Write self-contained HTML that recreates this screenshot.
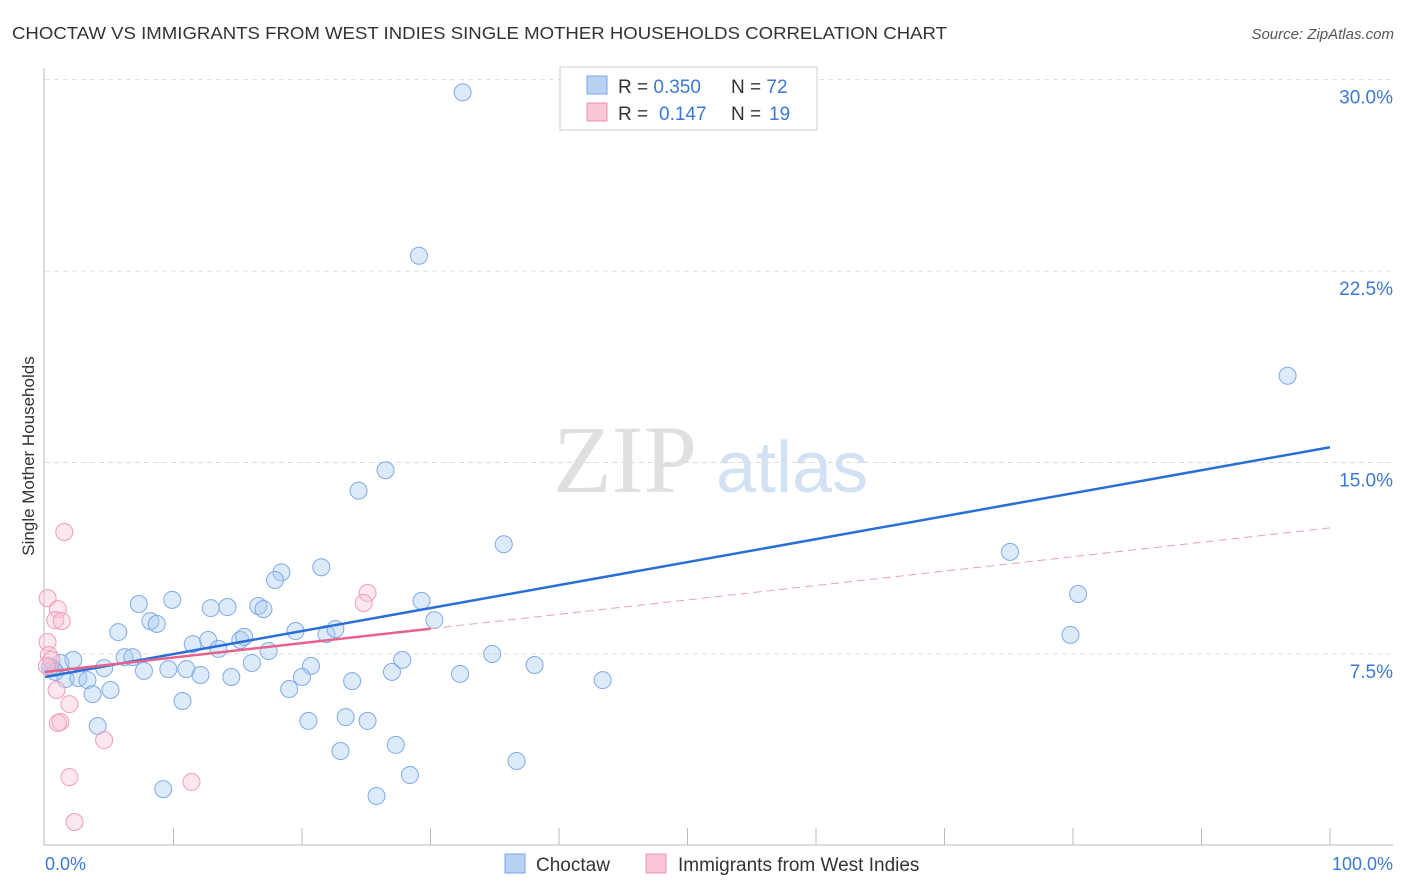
<!DOCTYPE html>
<html><head><meta charset="utf-8"><style>
body{margin:0;background:#fff;font-family:"Liberation Sans",sans-serif}
svg{display:block}
</style></head><body>
<svg width="1406" height="892" viewBox="0 0 1406 892">
<text x="12" y="39" font-size="17.5" fill="#333" textLength="935" lengthAdjust="spacingAndGlyphs">CHOCTAW VS IMMIGRANTS FROM WEST INDIES SINGLE MOTHER HOUSEHOLDS CORRELATION CHART</text>
<text x="1394" y="39" font-size="15" fill="#555" font-style="italic" text-anchor="end">Source: ZipAtlas.com</text>
<g>
<text x="553" y="492" font-family="Liberation Serif,serif" font-size="96" fill="#e0e0e0">ZIP</text>
<text x="716" y="492" font-size="72" fill="#d3e1f5">atlas</text>
</g>
<g id="grid"></g>
<line x1="44" y1="68" x2="44" y2="845" stroke="#bbb"/>
<line x1="44" y1="845" x2="1393" y2="845" stroke="#bbb"/>
<g id="xticks"></g>
<text x="34" y="456" font-size="17" fill="#333" transform="rotate(-90 34 456)" text-anchor="middle">Single Mother Households</text>
<text x="45" y="870" font-size="18" fill="#3b78d8">0.0%</text>
<text x="1393" y="870" font-size="18" fill="#3b78d8" text-anchor="end">100.0%</text>
<g id="pts"></g>
<g id="lines"></g>
<g>
<rect x="560" y="67" width="257" height="63" fill="#fff" stroke="#ccc"/>
<rect x="587" y="76" width="20" height="18" fill="#b8d1f3" stroke="#7aa6e2"/>
<rect x="587" y="103" width="20" height="18" fill="#f9c7d5" stroke="#eb91ab"/>
<text x="618" y="93" font-size="19" fill="#333">R = <tspan fill="#3b78d8">0.350</tspan><tspan x="731">N = </tspan><tspan fill="#3b78d8">72</tspan></text>
<text x="618" y="120" font-size="19" fill="#333">R = <tspan x="659" fill="#3b78d8">0.147</tspan><tspan x="731">N = </tspan><tspan x="769" fill="#3b78d8">19</tspan></text>
</g>
<g>
<rect x="505" y="854" width="20" height="19" fill="#b8d1f3" stroke="#7aa6e2"/>
<text x="536" y="871" font-size="19" fill="#333">Choctaw</text>
<rect x="646" y="854" width="20" height="19" fill="#f9c7d5" stroke="#eb91ab"/>
<text x="678" y="871" font-size="19" fill="#333">Immigrants from West Indies</text>
</g>
</svg>
<script>
const yTicks=[7.5,15,22.5,30];
const yTickLabels=["7.5%","15.0%","22.5%","30.0%"];
const xTicks=[10,20,30,40,50,60,70,80,90,100];
const choctawX=[32.5,29.1,96.7,26.5,24.4,35.7,75.1,21.5,18.4,17.9,80.4,7.3,9.9,12.9,14.2,16.6,17.0,29.3,30.3,8.2,8.7,5.7,79.8,19.5,21.9,22.6,11.5,12.7,13.5,15.2,15.5,17.4,2.2,1.2,0.6,0.4,0.8,1.6,2.6,3.3,4.6,6.2,6.8,7.7,9.6,11.0,12.1,14.5,16.1,20.7,20.0,19.0,23.9,27.0,27.8,32.3,34.8,38.1,43.4,3.7,5.1,10.7,4.1,20.5,23.4,25.1,23.0,27.3,28.4,36.7,9.2,25.8];
const choctawY=[29.5,23.1,18.4,14.7,13.9,11.8,11.5,10.9,10.7,10.4,9.85,9.46,9.62,9.3,9.34,9.38,9.26,9.58,8.83,8.79,8.68,8.36,8.25,8.4,8.28,8.48,7.89,8.05,7.7,8.05,8.17,7.62,7.27,7.15,6.95,6.99,6.8,6.52,6.56,6.48,6.95,7.38,7.38,6.84,6.91,6.91,6.68,6.6,7.15,7.03,6.6,6.13,6.44,6.8,7.27,6.72,7.5,7.07,6.48,5.93,6.09,5.66,4.68,4.88,5.03,4.88,3.7,3.94,2.76,3.31,2.21,1.94];
const westIndiesX=[1.5,0.2,1.0,0.8,1.3,0.2,0.3,0.5,0.9,1.9,1.2,1.0,4.6,1.9,2.3,11.4,25.1,24.8,0.15];
const westIndiesY=[12.28,9.69,9.26,8.83,8.79,7.97,7.46,7.27,6.09,5.54,4.84,4.8,4.13,2.68,0.92,2.49,9.89,9.5,7.03];
const choctawTrend=[6.6,15.6];
const westIndiesTrend=[6.8,12.44];
const westIndiesSolidEnd=30;

const NS="http://www.w3.org/2000/svg";
const sx=v=>45+v*12.85;
const sy=v=>845.5-v*25.53;
function mk(tag,attrs,parent){const e=document.createElementNS(NS,tag);for(const k in attrs)e.setAttribute(k,attrs[k]);parent.appendChild(e);return e;}
const grid=document.getElementById('grid');
yTicks.forEach((t,i)=>{
 const l=mk('line',{x1:45,x2:1393,y1:sy(t),y2:sy(t),stroke:'#ddd','stroke-dasharray':'5,4'},grid);
 
 
 const tx=mk('text',{x:1393,y:sy(t)+24,'font-size':19,fill:'#3b78d8','text-anchor':'end'},grid);
 tx.textContent=yTickLabels[i];
 
 
});
const xt=document.getElementById('xticks');
xTicks.forEach(t=>{
 const l=mk('line',{x1:sx(t),x2:sx(t),y1:828,y2:845,stroke:'#bbb'},xt);
 
 
});
const pts=document.getElementById('pts');
choctawX.forEach((x,i)=>{
 const c=mk('circle',{cx:sx(x),cy:sy(choctawY[i]),r:8.5,fill:'rgba(170,202,242,0.4)',stroke:'#7fabe4','stroke-width':1},pts);
 
 
});
westIndiesX.forEach((x,i)=>{
 const c=mk('circle',{cx:sx(x),cy:sy(westIndiesY[i]),r:8.5,fill:'rgba(248,195,212,0.4)',stroke:'#ee9db5','stroke-width':1},pts);
 
 
});
const lines=document.getElementById('lines');
const bl=mk('line',{x1:sx(0),y1:sy(choctawTrend[0]),x2:sx(100),y2:sy(choctawTrend[1]),stroke:'#2a6fd6','stroke-width':2.5},lines);


const pAt=v=>westIndiesTrend[0]+(westIndiesTrend[1]-westIndiesTrend[0])*v/100;
const pl=mk('line',{x1:sx(0),y1:sy(pAt(0)),x2:sx(westIndiesSolidEnd),y2:sy(pAt(westIndiesSolidEnd)),stroke:'#e8628c','stroke-width':2.5},lines);


const pd=mk('line',{x1:sx(westIndiesSolidEnd),y1:sy(pAt(westIndiesSolidEnd)),x2:sx(100),y2:sy(pAt(100)),stroke:'#e8a0b6','stroke-width':1,'stroke-dasharray':'8,5'},lines);


</script>
</body></html>
